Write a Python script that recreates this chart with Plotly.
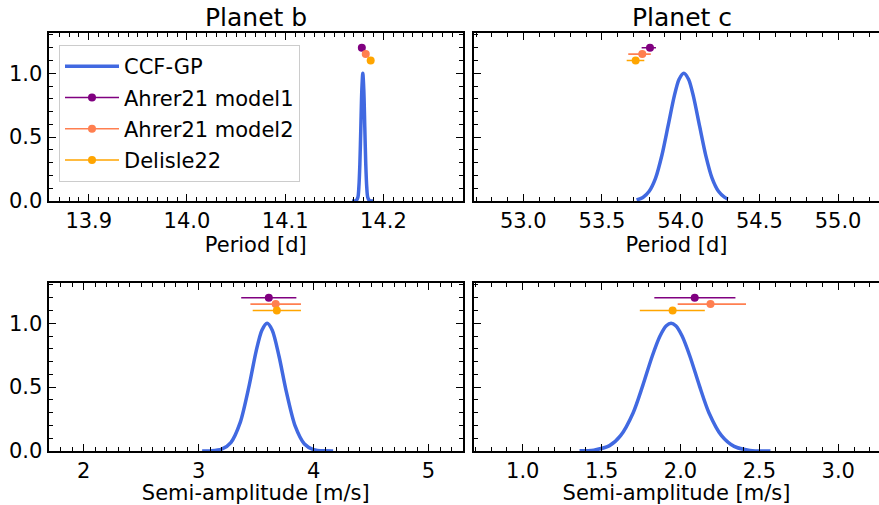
import plotly.graph_objects as go

# ---------------- data ----------------
# CCF-GP posterior curves (normalised to peak = 1)
pb_period_x = [14.168, 14.172, 14.174, 14.175, 14.176, 14.177, 14.178, 14.179,
               14.180, 14.181, 14.182, 14.183, 14.184, 14.186, 14.190]
pb_period_y = [0.0, 0.002, 0.03, 0.11, 0.29, 0.58, 0.87, 1.0,
               0.87, 0.58, 0.29, 0.11, 0.03, 0.002, 0.0]

pc_period_x = [53.72, 53.76, 53.80, 53.84, 53.88, 53.92, 53.96, 53.99, 54.02,
               54.05, 54.08, 54.12, 54.16, 54.20, 54.24, 54.28, 54.30]
pc_period_y = [0.008, 0.028, 0.076, 0.177, 0.354, 0.588, 0.825, 0.953, 1.0,
               0.953, 0.825, 0.588, 0.354, 0.177, 0.076, 0.028, 0.015]

pb_k_x = [3.03, 3.10, 3.20, 3.28, 3.36, 3.44, 3.50, 3.55, 3.595,
          3.64, 3.70, 3.76, 3.84, 3.92, 4.00, 4.10, 4.17]
pb_k_y = [0.0, 0.001, 0.014, 0.066, 0.220, 0.516, 0.782, 0.945, 1.0,
          0.946, 0.738, 0.475, 0.194, 0.055, 0.011, 0.001, 0.0]

pc_k_x = [1.36, 1.45, 1.55, 1.62, 1.70, 1.76, 1.82, 1.87, 1.91, 1.94,
          1.97, 2.01, 2.06, 2.12, 2.18, 2.26, 2.34, 2.44, 2.57]
pc_k_y = [0.001, 0.007, 0.042, 0.12, 0.30, 0.51, 0.74, 0.90, 0.98, 1.0,
          0.98, 0.90, 0.74, 0.51, 0.30, 0.12, 0.036, 0.005, 0.0]

# Literature values: [value, minus error, plus error]
lit_names = ["Ahrer21 model1", "Ahrer21 model2", "Delisle22"]
lit_colors = ["#800080", "#FF7F50", "#FFA500"]
lit_height = [1.20, 1.15, 1.10]

pb_period_lit = [[14.178, 0.0003, 0.0003], [14.182, 0.0003, 0.0003], [14.187, 0.0003, 0.0003]]
pc_period_lit = [[53.805, 0.053, 0.038], [53.756, 0.089, 0.054], [53.714, 0.057, 0.055]]
pb_k_lit = [[3.61, 0.24, 0.24], [3.67, 0.22, 0.22], [3.68, 0.21, 0.21]]
pc_k_lit = [[2.09, 0.256, 0.258], [2.19, 0.208, 0.225], [1.95, 0.208, 0.204]]

titles = ["Planet b", "Planet c"]
xlabels = ["Period [d]", "Semi-amplitude [m/s]"]

# ---------------- layout geometry ----------------
W, H = 879, 505
FONT = "DejaVu Sans"
CURVE_COLOR = "royalblue"


def px_x(p):
    return p / W


def px_y(p):
    return 1 - p / H


left_dom = [px_x(48.5), px_x(463)]
right_dom = [px_x(474), 1.0]
top_dom = [px_y(201), px_y(33.3)]
bot_dom = [px_y(451), px_y(283.3)]

panels = [
    # (axis suffix, xdomain, ydomain, xrange, major dtick, minor dtick, curve, lit, xlabel, left?)
    ("", left_dom, top_dom, [13.859, 14.281], 0.1, 0.01, (pb_period_x, pb_period_y), pb_period_lit, xlabels[0], True),
    ("2", right_dom, top_dom, [52.687, 55.26], 0.5, 0.1, (pc_period_x, pc_period_y), pc_period_lit, xlabels[0], False),
    ("3", left_dom, bot_dom, [1.693, 5.30], 1.0, 0.1, (pb_k_x, pb_k_y), pb_k_lit, xlabels[1], True),
    ("4", right_dom, bot_dom, [0.691, 3.258], 0.5, 0.1, (pc_k_x, pc_k_y), pc_k_lit, xlabels[1], False),
]

fig = go.Figure()
layout = {}

tickfont = dict(family=FONT, size=21, color="black")

for suf, xd, yd, xr, dt, mdt, curve, lit, xlabel, is_left in panels:
    xa = "xaxis" + suf
    ya = "yaxis" + suf
    xref = "x" + suf
    yref = "y" + suf
    layout[xa] = dict(
        domain=xd, range=xr, anchor=yref, dtick=dt,
        tick0=0, ticks="inside", ticklen=7, tickwidth=1.3, tickcolor="black",
        minor=dict(dtick=mdt, ticks="inside", ticklen=4, tickwidth=1, tickcolor="black"),
        showline=True, linecolor="black", linewidth=2, mirror="allticks",
        showgrid=False, zeroline=False, tickfont=tickfont,
        title=dict(text=xlabel, font=dict(family=FONT, size=21, color="black"), standoff=4),
        automargin=False,
    )
    if dt < 1:
        layout[xa]["tickformat"] = ".1f"
    layout[ya] = dict(
        domain=yd, range=[0, 1.313], anchor=xref, dtick=0.5, tick0=0,
        ticks="inside", ticklen=7, tickwidth=1.3, tickcolor="black",
        minor=dict(dtick=0.1, ticks="inside", ticklen=4, tickwidth=1, tickcolor="black"),
        showline=True, linecolor="black", linewidth=2,
        mirror="allticks" if is_left else False,
        showgrid=False, zeroline=False, tickfont=tickfont,
        showticklabels=is_left, tickformat=".1f", automargin=False,
    )

    fig.add_trace(go.Scatter(
        x=curve[0], y=curve[1], mode="lines", xaxis=xref, yaxis=yref,
        line=dict(color=CURVE_COLOR, width=3.5, shape="spline", smoothing=0.8),
        showlegend=False, hoverinfo="skip",
    ))
    for (val, em, ep), h, col, name in zip(lit, lit_height, lit_colors, lit_names):
        fig.add_trace(go.Scatter(
            x=[val], y=[h], mode="markers", xaxis=xref, yaxis=yref,
            marker=dict(color=col, size=8),
            error_x=dict(type="data", symmetric=False, array=[ep], arrayminus=[em],
                         color=col, thickness=1.6, width=0),
            showlegend=False, name=name,
        ))

# Legend entries (line-through-marker symbols like errorbar handles)
fig.add_trace(go.Scatter(x=[None], y=[None], mode="lines", name="CCF-GP",
                         line=dict(color=CURVE_COLOR, width=3.5), legendgroup="g0"))
for i, (col, name) in enumerate(zip(lit_colors, lit_names)):
    fig.add_trace(go.Scatter(x=[None], y=[None], mode="lines+markers", name=name,
                             line=dict(color=col, width=1.6), marker=dict(color=col, size=8),
                             legendgroup="g%d" % (i + 1)))

annotations = []
for t, xd in zip(titles, [left_dom, [px_x(474), px_x(889)]]):
    annotations.append(dict(
        text=t, x=(xd[0] + xd[1]) / 2, y=px_y(17), xref="paper", yref="paper",
        xanchor="center", yanchor="middle", showarrow=False,
        font=dict(family=FONT, size=25, color="black"),
    ))

fig.update_layout(
    **layout,
    width=W, height=H,
    margin=dict(l=0, r=0, t=0, b=0),
    paper_bgcolor="white", plot_bgcolor="white",
    font=dict(family=FONT, color="black"),
    annotations=annotations,
    legend=dict(
        x=px_x(59), y=px_y(45), xanchor="left", yanchor="top",
        bgcolor="rgba(255,255,255,0.8)", bordercolor="#cccccc", borderwidth=1,
        font=dict(family=FONT, size=21, color="black"),
        itemwidth=54, tracegroupgap=1,
    ),
)

fig.write_html("out.html")
